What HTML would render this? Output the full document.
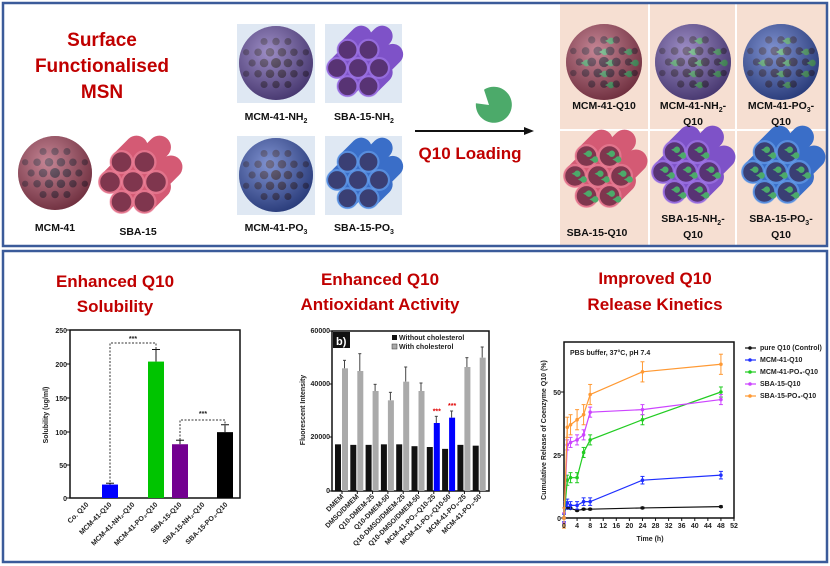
<!DOCTYPE html>
<html><head><meta charset="utf-8">
<style>
html,body{margin:0;padding:0;background:#fff;}
svg{display:block;font-family:"Liberation Sans",sans-serif;}
.t{font-weight:bold;fill:#c00000;text-anchor:middle;}
.lb{font-weight:bold;font-size:10.5px;fill:#111;text-anchor:middle;}
.ax{font-weight:bold;font-size:7px;fill:#222;}
</style></head><body>
<svg id="s" width="830" height="566" viewBox="0 0 830 566" xmlns="http://www.w3.org/2000/svg">
<defs>
<radialGradient id="gr" cx="40%" cy="35%" r="70%"><stop offset="0" stop-color="#fff" stop-opacity=".35"/><stop offset="1" stop-color="#000" stop-opacity=".35"/></radialGradient>
</defs>
<rect x="0" y="0" width="830" height="566" fill="#fff"/>
<rect x="560" y="4" width="266" height="241" fill="#f6dfd2"/>
<line x1="649" y1="4" x2="649" y2="245" stroke="#fff" stroke-width="2"/>
<line x1="736" y1="4" x2="736" y2="245" stroke="#fff" stroke-width="2"/>
<line x1="560" y1="130" x2="826" y2="130" stroke="#fff" stroke-width="2"/>
<rect x="237" y="24" width="78" height="79" fill="#dfe8f3"/>
<rect x="325" y="24" width="77" height="79" fill="#dfe8f3"/>
<rect x="237" y="136" width="78" height="79" fill="#dfe8f3"/>
<rect x="325" y="136" width="77" height="79" fill="#dfe8f3"/>
<g id="g"></g>
<rect x="3" y="3" width="824" height="243" fill="none" stroke="#3b5b9a" stroke-width="2.5"/>
<rect x="3" y="251" width="824" height="311" fill="none" stroke="#3b5b9a" stroke-width="2.5"/>

<text class="t" x="102" y="46" font-size="19">Surface</text>
<text class="t" x="102" y="72" font-size="19">Functionalised</text>
<text class="t" x="102" y="98" font-size="19">MSN</text>
<text class="lb" x="55" y="231">MCM-41</text>
<text class="lb" x="138" y="235">SBA-15</text>
<text class="lb" x="276" y="120">MCM-41-NH<tspan font-size="7" dy="3">2</tspan></text>
<text class="lb" x="364" y="120">SBA-15-NH<tspan font-size="7" dy="3">2</tspan></text>
<text class="lb" x="276" y="231">MCM-41-PO<tspan font-size="7" dy="3">3</tspan></text>
<text class="lb" x="364" y="231">SBA-15-PO<tspan font-size="7" dy="3">3</tspan></text>
<line x1="415" y1="131" x2="528" y2="131" stroke="#111" stroke-width="2"/>
<polygon points="534,131 524,127 524,135" fill="#111"/>
<text class="t" x="470" y="159" font-size="17">Q10 Loading</text>
<text class="lb" x="604" y="109">MCM-41-Q10</text>
<text class="lb" x="693" y="109">MCM-41-NH<tspan font-size="7" dy="3">2</tspan><tspan dy="-3">-</tspan></text>
<text class="lb" x="693" y="125">Q10</text>
<text class="lb" x="781" y="109">MCM-41-PO<tspan font-size="7" dy="3">3</tspan><tspan dy="-3">-</tspan></text>
<text class="lb" x="781" y="125">Q10</text>
<text class="lb" x="597" y="236">SBA-15-Q10</text>
<text class="lb" x="693" y="222">SBA-15-NH<tspan font-size="7" dy="3">2</tspan><tspan dy="-3">-</tspan></text>
<text class="lb" x="693" y="238">Q10</text>
<text class="lb" x="781" y="222">SBA-15-PO<tspan font-size="7" dy="3">3</tspan><tspan dy="-3">-</tspan></text>
<text class="lb" x="781" y="238">Q10</text>

<text class="t" x="115" y="287" font-size="17">Enhanced Q10</text>
<text class="t" x="115" y="312" font-size="17">Solubility</text>
<text class="t" x="380" y="285" font-size="17">Enhanced Q10</text>
<text class="t" x="380" y="310" font-size="17">Antioxidant Activity</text>
<text class="t" x="655" y="284" font-size="17">Improved Q10</text>
<text class="t" x="655" y="310" font-size="17">Release Kinetics</text>

<g id="c"></g>
<g class="ax" text-anchor="end">
<text x="67" y="333">250</text><text x="67" y="367">200</text><text x="67" y="401">150</text><text x="67" y="435">100</text><text x="67" y="468">50</text><text x="67" y="501">0</text>
</g>
<text class="ax" font-size="8.5" text-anchor="middle" transform="translate(48,415) rotate(-90)">Solubility (ug/ml)</text>
<g class="ax" font-size="6.5" text-anchor="end">
<text transform="translate(89,505) rotate(-45)">Co. Q10</text>
<text transform="translate(112,505) rotate(-45)">MCM-41-Q10</text>
<text transform="translate(135,505) rotate(-45)">MCM-41-NH₂-Q10</text>
<text transform="translate(158,505) rotate(-45)">MCM-41-PO₃-Q10</text>
<text transform="translate(182,505) rotate(-45)">SBA-15-Q10</text>
<text transform="translate(205,505) rotate(-45)">SBA-15-NH₂-Q10</text>
<text transform="translate(228,505) rotate(-45)">SBA-15-PO₃-Q10</text>
</g>
<text class="ax" font-size="9" x="133" y="341" text-anchor="middle">***</text>
<text class="ax" font-size="9" x="203" y="416" text-anchor="middle">***</text>
<g class="ax" font-size="6" text-anchor="end">
<text x="330" y="333">60000</text><text x="330" y="386">40000</text><text x="330" y="439">20000</text><text x="330" y="493">0</text>
</g>
<text class="ax" font-size="9" text-anchor="middle" transform="translate(305,410) rotate(-90)">Fluorescent Intensity</text>
<rect x="333" y="332" width="17" height="16" fill="#111"/>
<text x="336" y="345" font-size="11" font-weight="bold" fill="#fff">b)</text>
<rect x="392" y="335" width="5" height="5" fill="#111"/><text class="ax" font-size="6.5" x="399" y="340">Without cholesterol</text>
<rect x="392" y="344" width="5" height="5" fill="#aaa" stroke="#333" stroke-width=".5"/><text class="ax" font-size="6.5" x="399" y="349">With cholesterol</text>
<g class="ax" font-size="6.3" text-anchor="end" id="c2l"></g>
<text class="ax" font-size="6.5" x="570" y="355">PBS buffer, 37°C, pH 7.4</text>
<g class="ax" font-size="6.5" text-anchor="end">
<text x="561" y="521">0</text><text x="561" y="458">25</text><text x="561" y="395">50</text>
</g>
<text class="ax" font-size="7.5" text-anchor="middle" transform="translate(546,430) rotate(-90)">Cumulative Release of Coenzyme Q10 (%)</text>
<text class="ax" font-size="8" x="650" y="541" text-anchor="middle">Time (h)</text>
<g class="ax" font-size="6" text-anchor="middle" id="c3x"></g>
<g class="ax" font-size="6"><text x="760" y="350">pure Q10 (Control)</text><text x="760" y="362">MCM-41-Q10</text><text x="760" y="374">MCM-41-PO₃-Q10</text><text x="760" y="386">SBA-15-Q10</text><text x="760" y="398">SBA-15-PO₃-Q10</text></g>
</svg>
<script>
var NS="http://www.w3.org/2000/svg";
function el(p,n,a){var e=document.createElementNS(NS,n);for(var k in a)e.setAttribute(k,a[k]);p.appendChild(e);return e;}
var g=document.getElementById('g'),c=document.getElementById('c');
function pac(p,x,y,r){el(p,'path',{d:'M'+x+','+y+' L'+(x+r*0.9)+','+(y-r*0.45)+' A'+r+','+r+' 0 1 1 '+(x+r*0.9)+','+(y+r*0.45)+' Z',fill:'#4caa6a'});}
function sphere(cx,cy,r,col,dots){
 el(g,'circle',{cx:cx,cy:cy,r:r,fill:col});
 var s=r/3.1;
 for(var i=-4;i<=4;i++)for(var j=-4;j<=4;j++){
  var x=cx+i*s+(j%2?s/2:0),y=cy+j*s*0.9;var d=Math.hypot(x-cx,y-cy);
  if(d<r*0.86){var f=1-d/r*0.8;el(g,'ellipse',{cx:x,cy:y,rx:s*0.38*(0.5+f*0.6),ry:s*0.38*(0.5+f*0.6),fill:'#1a0a20',opacity:0.35+f*0.5});
   if(dots&&d<r*0.75&&(i+j)%2==0)pac(g,x+1,y+1,s*0.27);}
 }
 el(g,'circle',{cx:cx,cy:cy,r:r,fill:'url(#gr)'});
}
function tubes(cx,cy,s,col,lt,dots){
 var pts=[[0,0]];for(var k=0;k<6;k++){var a=k*Math.PI/3;pts.push([Math.cos(a)*2*s,Math.sin(a)*2*s]);}
 pts.forEach(function(p){el(g,'line',{x1:cx+p[0],y1:cy+p[1],x2:cx+p[0]+s*1.3,y2:cy+p[1]-s*1.3,stroke:col,'stroke-width':2*s,'stroke-linecap':'round'});});
 pts.forEach(function(p){el(g,'circle',{cx:cx+p[0],cy:cy+p[1],r:s*0.95,fill:'#3a1a30',opacity:0.55,stroke:lt,'stroke-width':s*0.2});
  if(dots){pac(g,cx+p[0]-s*0.3,cy+p[1]-s*0.2,s*0.28);pac(g,cx+p[0]+s*0.25,cy+p[1]+s*0.3,s*0.28);}});
}
sphere(55,173,37,'#a8465e');tubes(133,182,11.5,'#d45a74','#ef8aa0');
sphere(276,63,37,'#6a52a8');tubes(358,68,10.5,'#7e52c8','#a880ee');
sphere(276,175,37,'#3c58b8');tubes(358,180,10.5,'#3a6ec8','#70a8f0');
sphere(604,62,38,'#a8465e',1);sphere(693,62,38,'#6a52a8',1);sphere(781,62,38,'#3c58b8',1);
tubes(598,176,11.5,'#d45a74','#ef8aa0',1);tubes(686,172,11.5,'#7e52c8','#a880ee',1);tubes(776,172,11.5,'#3a6ec8','#70a8f0',1);
(function(){var x=493,y=105,r=18;el(g,'path',{d:'M'+(x-4)+','+y+' L'+(x-r*0.5)+','+(y-r*0.85)+' A'+r+','+r+' 0 1 1 '+(x-r*0.95)+','+(y-r*0.1)+' Z',fill:'#4caa6a'});})();

el(c,'rect',{x:70,y:330,width:170,height:168,fill:'none',stroke:'#111','stroke-width':1.5});
[330,364,398,432,465,498].forEach(function(y){el(c,'line',{x1:66,y1:y,x2:70,y2:y,stroke:'#111'});});
function y1(v){return 498-v*0.672;}
[[110,20,2,'#0000ff'],[156,203,18,'#00c400'],[180,80,6,'#730090'],[225,98,11,'#000']].forEach(function(b){
 el(c,'line',{x1:b[0],y1:y1(b[1]),x2:b[0],y2:y1(b[1]+b[2]),stroke:'#111'});
 el(c,'line',{x1:b[0]-4,y1:y1(b[1]+b[2]),x2:b[0]+4,y2:y1(b[1]+b[2]),stroke:'#111'});
 el(c,'rect',{x:b[0]-8,y:y1(b[1]),width:16,height:498-y1(b[1]),fill:b[3]});});
el(c,'polyline',{points:'110,482 110,343 156,343 156,350',fill:'none',stroke:'#333','stroke-dasharray':'2,1.5'});
el(c,'polyline',{points:'180,440 180,420 225,420 225,426',fill:'none',stroke:'#333','stroke-dasharray':'2,1.5'});
el(c,'rect',{x:332,y:331,width:157,height:160,fill:'none',stroke:'#111','stroke-width':1.5});
function y2(v){return 491-v*160/60000;}
var bl=[17500,17300,17300,17500,17500,16800,16500,15800,17300,17000];
var gr=[46000,45000,37500,34000,41000,37500,25500,27500,46500,50000];
var ge=[49000,51500,40000,37000,46500,40500,28000,30000,50000,54000];
var lab=['DMEM','DMSO/DMEM','Q10-DMEM-25','Q10-DMEM-50','Q10-DMSO/DMEM-25','Q10-DMSO/DMEM-50','MCM-41-PO₃-Q10-25','MCM-41-PO₃-Q10-50','MCM-41-PO₃-25','MCM-41-PO₃-50'];
var L=document.getElementById('c2l');
for(var i=0;i<10;i++){var x=335+i*15.3;
 el(c,'rect',{x:x,y:y2(bl[i]),width:6,height:491-y2(bl[i]),fill:'#111'});
 el(c,'line',{x1:x+9.5,y1:y2(gr[i]),x2:x+9.5,y2:y2(ge[i]),stroke:'#444'});
 el(c,'line',{x1:x+8,y1:y2(ge[i]),x2:x+11,y2:y2(ge[i]),stroke:'#444'});
 el(c,'rect',{x:x+7,y:y2(gr[i]),width:6,height:491-y2(gr[i]),fill:(i==6||i==7)?'#0000ff':'#aaa'});
 el(c,'line',{x1:x+7,y1:491,x2:x+7,y2:494,stroke:'#111'});
 var t=el(L,'text',{transform:'translate('+(x+9)+',497) rotate(-45)'});t.textContent=lab[i];
 if(i==6||i==7){var s=el(c,'text',{x:x+10,y:y2(ge[i])-3,'font-size':7,fill:'#e00000','text-anchor':'middle','font-weight':'bold'});s.textContent='***';}
}
[331,384,437,491].forEach(function(y){el(c,'line',{x1:329,y1:y,x2:332,y2:y,stroke:'#111'});});
el(c,'rect',{x:564,y:342,width:170,height:176,fill:'none',stroke:'#111','stroke-width':1.5});
function X(t){return 564+t*170/52;}function Y(v){return 518-v*2.52;}
var X3=document.getElementById('c3x');
for(var t=0;t<=52;t+=4){el(c,'line',{x1:X(t),y1:518,x2:X(t),y2:521,stroke:'#111'});var tx=el(X3,'text',{x:X(t),y:528});tx.textContent=t;}
[0,25,50].forEach(function(v){el(c,'line',{x1:561,y1:Y(v),x2:564,y2:Y(v),stroke:'#111'});});
var S=[
['#111',[0,.5,1,2,4,6,8,24,48],[0,4.5,4,3.8,3,3.5,3.5,4,4.5],0.3],
['#1f2fff',[0,.5,1,2,4,6,8,24,48],[0,5,6,5,5,6.5,6.5,15,17],1.5],
['#22cc22',[0,1,2,4,6,8,24,48],[0,15,16,16,26,31,39,50],2],
['#cc44ff',[0,1,2,4,6,8,24,48],[0,29,30,31,33,42,43,47],2],
['#ff9933',[0,1,2,4,6,8,24,48],[0,36,37,39,41,49,58,61],4]];
S.forEach(function(s,k){var p=s[1].map(function(t,i){return X(t)+','+Y(s[2][i]);}).join(' ');
 el(c,'polyline',{points:p,fill:'none',stroke:s[0],'stroke-width':1.2});
 s[1].forEach(function(t,i){el(c,'line',{x1:X(t),y1:Y(s[2][i]-s[3]),x2:X(t),y2:Y(s[2][i]+s[3]),stroke:s[0]});
  el(c,'line',{x1:X(t)-2,y1:Y(s[2][i]+s[3]),x2:X(t)+2,y2:Y(s[2][i]+s[3]),stroke:s[0]});
  el(c,'line',{x1:X(t)-2,y1:Y(s[2][i]-s[3]),x2:X(t)+2,y2:Y(s[2][i]-s[3]),stroke:s[0]});
  el(c,'circle',{cx:X(t),cy:Y(s[2][i]),r:1.8,fill:s[0]});});
 var ly=[348,360,372,384,396][k];
 el(c,'line',{x1:745,y1:ly,x2:756,y2:ly,stroke:s[0],'stroke-width':1.2});el(c,'circle',{cx:750,cy:ly,r:1.8,fill:s[0]});
});
</script>
</body></html>
